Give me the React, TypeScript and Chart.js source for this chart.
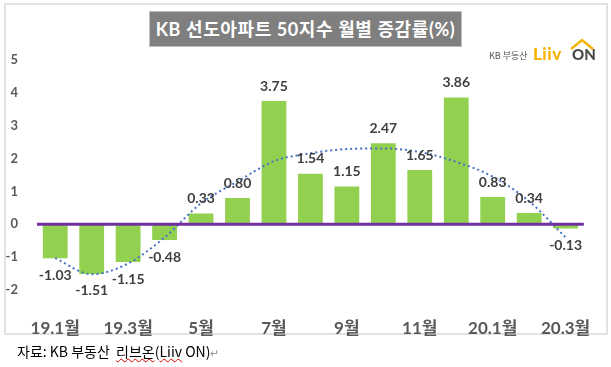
import React, { useEffect, useRef } from "react";
import { Chart, registerables } from "chart.js";

Chart.register(...registerables);

const categories = ["19.1월", "19.2월", "19.3월", "4월", "5월", "6월", "7월", "8월", "9월", "10월", "11월", "12월", "20.1월", "20.2월", "20.3월"];
const changeRates = [-1.03, -1.51, -1.15, -0.48, 0.33, 0.8, 3.75, 1.54, 1.15, 2.47, 1.65, 3.86, 0.83, 0.34, -0.13];
const trendValues = [-1.03, -1.52, -1.19, -0.4, 0.64, 1.3, 1.92, 2.16, 2.29, 2.31, 2.2, 1.9, 1.45, 0.7, -0.4];
const shownTickLabels = ["19.1월", "", "19.3월", "", "5월", "", "7월", "", "9월", "", "11월", "", "20.1월", "", "20.3월"];
const yTicks = [5, 4, 3, 2, 1, 0, -1, -2];

const titleText = "KB 선도아파트 50지수 월별 증감률(%)";
const FONT = "Lato, 'Noto Sans CJK KR', sans-serif";

const overlayPlugin = {
  id: "overlay",
  afterDatasetsDraw(chart: any) {
    const ctx = chart.ctx;
    const area = chart.chartArea;
    const y0 = chart.scales.y.getPixelForValue(0);
    ctx.save();
    ctx.strokeStyle = "#7030A0";
    ctx.lineWidth = 3;
    ctx.beginPath();
    ctx.moveTo(area.left, y0);
    ctx.lineTo(area.right, y0);
    ctx.stroke();

    const meta = chart.getDatasetMeta(1);
    ctx.fillStyle = "#404040";
    ctx.font = "bold 14px " + FONT;
    ctx.textAlign = "center";
    ctx.textBaseline = "middle";
    meta.data.forEach((el: any, i: number) => {
      const v = changeRates[i];
      const ty = v >= 0 ? el.y - 15 : el.y + 17;
      ctx.fillText(v.toFixed(2), el.x, ty);
    });
    ctx.restore();
  },
};

export default function App() {
  const ref = useRef<HTMLCanvasElement>(null);

  useEffect(() => {
    const chart = new Chart(ref.current as HTMLCanvasElement, {
      type: "bar",
      data: {
        labels: categories,
        datasets: [
          {
            type: "line",
            data: trendValues,
            borderColor: "#4472C4",
            borderWidth: 2,
            borderDash: [2, 3],
            pointRadius: 0,
            cubicInterpolationMode: "monotone",
            fill: false,
            order: 0,
          } as any,
          {
            type: "bar",
            data: changeRates,
            backgroundColor: "#92D050",
            borderWidth: 0,
            categoryPercentage: 1,
            barPercentage: 0.68,
            order: 1,
          },
        ],
      },
      options: {
        responsive: false,
        animation: false,
        layout: { padding: { top: 60, right: 23, left: 0, bottom: 0 } },
        plugins: { legend: { display: false }, tooltip: { enabled: false } },
        scales: {
          x: {
            grid: { display: false },
            border: { display: false },
            ticks: {
              autoSkip: false,
              maxRotation: 0,
              padding: 20,
              color: "#595959",
              font: { family: FONT, size: 17, weight: "bold" },
              callback: (_v: any, i: number) => shownTickLabels[i],
            },
            afterFit: (s: any) => {
              s.height = 77;
            },
          },
          y: {
            min: -2,
            max: 5,
            grid: { display: false, drawTicks: false },
            border: { display: false },
            afterBuildTicks: (s: any) => {
              s.ticks = yTicks.map((v) => ({ value: v }));
            },
            ticks: {
              padding: 19,
              color: "#595959",
              font: { family: FONT, size: 13, weight: "bold" },
              callback: (v: any) => String(v),
            },
            afterFit: (s: any) => {
              s.width = 37;
            },
          },
        },
      },
      plugins: [overlayPlugin],
    });
    return () => chart.destroy();
  }, []);

  return (
    <div style={{ position: "absolute", left: 0, top: 0, width: 611, height: 367, background: "#fff", overflow: "hidden" }}>
      <div style={{ position: "absolute", left: 4, top: 3, width: 600, height: 328, border: "2px solid #e2e2e2" }} />
      <canvas ref={ref} width={611} height={367} style={{ position: "absolute", left: 0, top: 0 }} />
      <div
        style={{
          position: "absolute",
          left: 149,
          top: 11,
          width: 311,
          height: 34,
          background: "#7F7F7F",
          border: "1px solid #bfbfbf",
          color: "#fff",
          fontFamily: FONT,
          fontWeight: "bold",
          fontSize: 18,
          letterSpacing: 0.6,
          lineHeight: "34px",
          textAlign: "center",
          whiteSpace: "nowrap",
        }}
      >
        {titleText}
      </div>
      <div style={{ position: "absolute", left: 489, top: 49, fontFamily: "'Noto Sans CJK KR', sans-serif", fontSize: 9, color: "#555", whiteSpace: "nowrap" }}>
        KB 부동산
      </div>
      <div style={{ position: "absolute", left: 533, top: 43, fontFamily: "Lato, sans-serif", fontWeight: 900, fontSize: 17, color: "#F6B400", whiteSpace: "nowrap", letterSpacing: 0.5 }}>
        Liiv
      </div>
      <div style={{ position: "absolute", left: 572, top: 45, fontFamily: "Lato, sans-serif", fontWeight: 900, fontSize: 15, color: "#4a4a4a", whiteSpace: "nowrap" }}>
        ON
      </div>
      <svg style={{ position: "absolute", left: 569, top: 38 }} width={26} height={12}>
        <polyline points="2,11 13,2 24,11" fill="none" stroke="#F6B400" strokeWidth={2.5} />
      </svg>
      <div style={{ position: "absolute", left: 17, top: 341, fontFamily: "'Noto Sans CJK KR', sans-serif", fontSize: 14, color: "#000", whiteSpace: "nowrap" }}>
        자료: KB 부동산{"\u00a0\u00a0"}
        <span style={{ textDecoration: "underline wavy #e00000", textDecorationThickness: 1 }}>리브온</span>(
        <span style={{ textDecoration: "underline wavy #e00000", textDecorationThickness: 1 }}>Liiv</span> ON)
        <span style={{ color: "#9a9a9a", fontSize: 11 }}>↵</span>
      </div>
    </div>
  );
}
